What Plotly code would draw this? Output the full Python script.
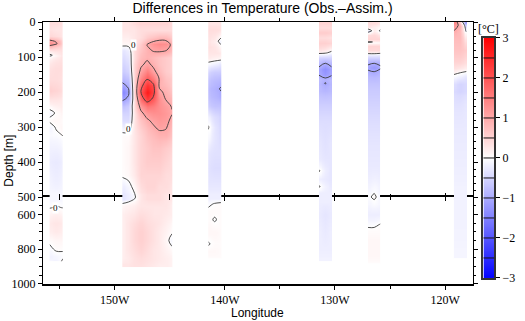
import numpy as np
import plotly.graph_objects as go

# Temperature difference sections (Obs. - Assim.), degrees C.
# Longitudes in degrees east (negative = west), depths in metres.
# Each section: column longitudes, upper-layer depths/values (0-500 m),
# lower-layer depths/values (500-1000 m). Rows = depth, columns = longitude.

s1_lon = [-155.9, -155.3, -154.7]
s1_dep_up = [0, 20, 40, 55, 62, 72, 85, 95, 105, 130, 160, 200, 225, 245, 260, 280, 300, 320, 350, 400, 450, 500]
s1_val_up = [
    [0.40, 0.40, 0.35], [0.35, 0.30, 0.30], [0.45, 0.40, 0.30], [1.15, 0.95, 0.55],
    [1.30, 1.06, 0.60], [0.75, 0.60, 0.45], [0.20, 0.30, 0.35], [-0.08, 0.12, 0.30],
    [0.20, 0.30, 0.35], [0.35, 0.40, 0.40], [0.40, 0.40, 0.35], [0.55, 0.50, 0.40],
    [0.30, 0.30, 0.25], [0.05, 0.15, 0.20], [-0.10, 0.03, 0.12], [0.06, 0.10, 0.06],
    [-0.12, 0.03, 0.10], [-0.06, -0.04, 0.02], [-0.15, -0.15, -0.10], [-0.22, -0.25, -0.20],
    [-0.15, -0.20, -0.15], [-0.10, -0.10, -0.10],
]
s1_dep_lo = [500, 560, 600, 650, 700, 750, 800, 840, 870]
s1_val_lo = [
    [-0.10, -0.10, -0.10], [-0.02, 0.02, -0.01], [0.15, 0.20, 0.15], [0.25, 0.30, 0.25],
    [0.20, 0.25, 0.20], [0.05, 0.10, 0.10], [-0.06, 0.04, 0.02], [-0.15, -0.10, -0.04],
    [-0.10, -0.15, 0.04],
]

s2_lon = [-149.3, -148.74, -148.18, -147.61, -147.05, -146.49, -145.93, -145.36, -144.8]
s2_dep_up = [0, 25, 45, 65, 80, 100, 120, 140, 160, 180, 200, 220, 240, 260, 280, 300,
             320, 360, 400, 440, 470, 500]
s2_val_up = [
    [0.30, 0.30, 0.40, 0.50, 0.50, 0.50, 0.50, 0.50, 0.40],
    [0.30, 0.30, 0.30, 0.40, 0.40, 0.40, 0.40, 0.40, 0.40],
    [0.20, 0.20, 0.30, 0.40, 0.60, 0.70, 0.80, 0.80, 0.60],
    [0.10, 0.10, 0.30, 0.60, 1.02, 1.25, 1.35, 1.30, 0.90],
    [-0.30, -0.20, 0.40, 0.70, 0.90, 1.05, 1.10, 1.05, 0.80],
    [-0.40, -0.30, 0.40, 0.80, 0.90, 0.80, 0.70, 0.60, 0.50],
    [-0.50, -0.40, 0.50, 0.90, 1.10, 0.90, 0.70, 0.60, 0.50],
    [-0.60, -0.50, 0.50, 1.10, 1.50, 1.10, 0.80, 0.60, 0.50],
    [-0.80, -0.70, 0.50, 1.40, 1.90, 1.50, 0.95, 0.70, 0.60],
    [-1.10, -0.90, 0.50, 1.80, 2.40, 2.10, 0.90, 0.80, 0.60],
    [-1.40, -1.10, 0.50, 2.03, 2.70, 2.20, 1.10, 0.90, 0.70],
    [-1.10, -0.90, 0.40, 1.70, 2.30, 1.90, 1.30, 0.98, 0.85],
    [-0.70, -0.60, 0.40, 1.20, 1.60, 1.50, 1.30, 1.15, 0.97],
    [-0.50, -0.50, 0.30, 0.90, 1.20, 1.30, 1.30, 1.20, 1.03],
    [-0.40, -0.40, 0.30, 0.70, 0.95, 1.10, 1.20, 1.15, 0.90],
    [-0.20, -0.20, 0.30, 0.60, 0.80, 0.95, 1.10, 1.05, 0.80],
    [0.05, 0.05, 0.30, 0.50, 0.70, 0.80, 0.90, 0.90, 0.70],
    [0.05, 0.10, 0.30, 0.50, 0.60, 0.70, 0.70, 0.60, 0.50],
    [0.05, 0.10, 0.30, 0.50, 0.60, 0.60, 0.60, 0.50, 0.40],
    [0.03, 0.08, 0.25, 0.50, 0.50, 0.50, 0.50, 0.40, 0.40],
    [-0.20, -0.10, 0.10, 0.40, 0.50, 0.50, 0.40, 0.40, 0.30],
    [-0.30, -0.20, -0.05, 0.30, 0.40, 0.40, 0.40, 0.30, 0.30],
]
s2_dep_lo = [500, 550, 600, 650, 700, 750, 800, 850, 900]
s2_val_lo = [
    [-0.30, -0.20, -0.05, 0.30, 0.40, 0.40, 0.40, 0.30, 0.30],
    [0.10, 0.15, 0.20, 0.30, 0.30, 0.30, 0.30, 0.30, 0.20],
    [0.20, 0.25, 0.30, 0.40, 0.35, 0.30, 0.30, 0.25, 0.20],
    [0.20, 0.30, 0.40, 0.50, 0.40, 0.35, 0.30, 0.20, 0.10],
    [0.20, 0.30, 0.45, 0.55, 0.45, 0.35, 0.25, 0.15, 0.03],
    [0.20, 0.30, 0.45, 0.55, 0.45, 0.35, 0.25, 0.10, -0.10],
    [0.20, 0.30, 0.40, 0.50, 0.40, 0.30, 0.25, 0.15, 0.05],
    [0.20, 0.25, 0.35, 0.40, 0.35, 0.30, 0.25, 0.20, 0.15],
    [0.30, 0.30, 0.35, 0.35, 0.30, 0.25, 0.20, 0.20, 0.15],
]

s3_lon = [-141.5, -140.92, -140.35]
s3_dep_up = [0, 20, 40, 55, 70, 90, 105, 120, 140, 170, 190, 210, 240, 270, 300, 330, 370, 420, 460, 500]
s3_val_up = [
    [0.30, 0.30, 0.30], [0.40, 0.40, 0.35], [0.35, 0.30, 0.10], [0.30, 0.20, -0.15],
    [0.35, 0.30, 0.10], [0.30, 0.30, 0.25], [0.20, 0.15, 0.10], [-0.10, -0.20, -0.30],
    [-0.50, -0.60, -0.60], [-0.70, -0.80, -0.85], [-0.80, -0.90, -1.03], [-0.75, -0.85, -0.95],
    [-0.60, -0.70, -0.70], [-0.20, -0.40, -0.50], [0.03, -0.30, -0.45], [-0.10, -0.30, -0.40],
    [-0.30, -0.35, -0.35], [-0.35, -0.40, -0.40], [-0.30, -0.30, -0.30], [-0.20, -0.20, -0.20],
]
s3_dep_lo = [500, 540, 580, 630, 700, 770, 810, 850]
s3_val_lo = [
    [-0.20, -0.20, -0.20], [-0.05, 0.02, 0.05], [0.05, 0.05, 0.05], [0.05, -0.02, 0.05],
    [0.10, 0.10, 0.05], [-0.02, 0.05, 0.05], [0.08, 0.08, 0.05], [0.05, 0.05, 0.05],
]

s4_lon = [-131.45, -130.88, -130.3]
s4_dep_up = [0, 15, 30, 45, 60, 75, 88, 100, 115, 135, 150, 165, 175, 190, 230, 280, 340,
             400, 425, 450, 470, 490, 500]
s4_val_up = [
    [0.50, 0.50, 0.50], [0.40, 0.40, 0.40], [0.60, 0.60, 0.55], [0.40, 0.40, 0.35],
    [0.55, 0.55, 0.50], [0.40, 0.35, 0.20], [0.10, 0.05, -0.10], [-0.50, -0.50, -0.50],
    [-0.80, -0.95, -0.80], [-1.10, -1.30, -1.10], [-1.03, -1.20, -1.05], [-0.80, -0.90, -0.80],
    [-0.85, -1.02, -0.85], [-0.80, -0.85, -0.80], [-0.60, -0.60, -0.60], [-0.40, -0.40, -0.40],
    [-0.30, -0.35, -0.30], [-0.25, -0.30, -0.30], [0.03, -0.20, -0.30], [-0.20, -0.25, -0.30],
    [0.03, -0.15, -0.25], [-0.20, -0.20, -0.20], [-0.20, -0.20, -0.20],
]
s4_dep_lo = [500, 600, 700, 800, 870]
s4_val_lo = [
    [-0.20, -0.20, -0.20], [-0.25, -0.30, -0.25], [-0.20, -0.25, -0.20],
    [-0.20, -0.20, -0.20], [-0.15, -0.15, -0.15],
]

s5_lon = [-127.0, -126.44, -125.87]
s5_dep_up = [0, 15, 25, 35, 50, 57, 70, 80, 90, 100, 115, 130, 145, 170, 220, 280, 350, 420, 470, 500]
s5_val_up = [
    [0.40, 0.40, 0.30], [0.30, 0.20, 0.10], [-0.30, 0.20, -0.05], [0.40, 0.45, 0.30],
    [0.50, 0.50, 0.50], [-0.05, 0.02, 0.05], [0.50, 0.50, 0.50], [0.45, 0.45, 0.45],
    [0.02, 0.03, -0.02], [-0.50, -0.50, -0.50], [-0.90, -0.95, -0.90], [-1.10, -1.20, -1.05],
    [-0.90, -0.95, -0.85], [-0.70, -0.70, -0.70], [-0.55, -0.55, -0.55], [-0.40, -0.40, -0.40],
    [-0.30, -0.30, -0.30], [-0.25, -0.25, -0.25], [-0.15, -0.10, -0.15], [-0.05, 0.05, -0.10],
]
s5_dep_lo = [500, 530, 600, 660, 690, 760, 820, 880]
s5_val_lo = [
    [-0.05, 0.05, -0.10], [-0.10, -0.05, -0.10], [-0.20, -0.20, -0.20], [-0.05, -0.05, 0.02],
    [0.05, 0.05, 0.05], [0.10, 0.10, 0.10], [0.10, 0.10, 0.10], [0.05, 0.05, 0.05],
]

s6_lon = [-119.2, -118.63, -118.06]
s6_dep_up = [0, 10, 25, 40, 80, 120, 140, 155, 175, 200, 215, 300, 400, 500]
s6_val_up = [
    [1.40, 0.60, -1.05], [1.20, 0.90, -0.40], [1.00, 0.80, -0.10], [0.80, 0.80, 0.30],
    [0.70, 0.70, 0.60], [0.50, 0.50, 0.40], [0.20, 0.10, 0.03], [-0.10, -0.20, -0.30],
    [-0.40, -0.50, -0.45], [-0.45, -0.50, -0.45], [-0.35, -0.35, -0.30], [-0.25, -0.25, -0.25],
    [-0.20, -0.20, -0.20], [-0.15, -0.15, -0.15],
]
s6_dep_lo = [500, 650, 850]
s6_val_lo = [[-0.15, -0.15, -0.15], [-0.15, -0.15, -0.15], [-0.12, -0.12, -0.12]]

# Axis tick values / labels
lon_ticks = [-150, -140, -130, -120]
lon_labels = ["150W", "140W", "130W", "120W"]
dep_ticks_up = [0, 100, 200, 300, 400, 500]
dep_ticks_lo = [600, 800, 1000]
cbar_ticks = [-3, -2, -1, 0, 1, 2, 3]
cbar_bounds = [-2.5, -2, -1.5, -1, -0.5, 0, 0.5, 1, 1.5, 2, 2.5]

SECTIONS = [
    (s1_lon, s1_dep_up, s1_val_up, s1_dep_lo, s1_val_lo),
    (s2_lon, s2_dep_up, s2_val_up, s2_dep_lo, s2_val_lo),
    (s3_lon, s3_dep_up, s3_val_up, s3_dep_lo, s3_val_lo),
    (s4_lon, s4_dep_up, s4_val_up, s4_dep_lo, s4_val_lo),
    (s5_lon, s5_dep_up, s5_val_up, s5_dep_lo, s5_val_lo),
    (s6_lon, s6_dep_up, s6_val_up, s6_dep_lo, s6_val_lo),
]

CS = [[0.0, "rgb(0,0,255)"], [0.5, "rgb(255,255,255)"], [1.0, "rgb(255,0,0)"]]
SERIF = "Liberation Serif, Times New Roman, Times, serif"
SANS = "Liberation Sans, Arial, Helvetica, sans-serif"
LON_RANGE = [-156.5, -117.5]


def edges(p):
    """Cell edges that start/end exactly on the first/last grid point."""
    p = np.asarray(p, float)
    mid = (p[:-1] + p[1:]) / 2
    return np.concatenate([[p[0]], mid, [p[-1]]])


fig = go.Figure()

for lon, dep_up, val_up, dep_lo, val_lo in SECTIONS:
    for dep, val, xa, ya in [(dep_up, val_up, "x2", "y"), (dep_lo, val_lo, "x", "y2")]:
        fig.add_trace(go.Heatmap(
            x=edges(lon), y=edges(dep), z=val, zsmooth="best",
            colorscale=CS, zmin=-3, zmax=3, showscale=False,
            xaxis=xa, yaxis=ya, hoverinfo="skip"))
        fig.add_trace(go.Contour(
            x=lon, y=dep, z=val, autocontour=False,
            contours=dict(start=-3, end=3, size=1, coloring="none"),
            line=dict(color="#3a3a3a", width=0.9), showscale=False,
            xaxis=xa, yaxis=ya, hoverinfo="skip"))

# empty traces so the tick-only overlay axes along the 500 m line get drawn
fig.add_trace(go.Scatter(x=[], y=[], xaxis="x4", yaxis="y2", hoverinfo="skip"))
fig.add_trace(go.Scatter(x=[], y=[], xaxis="x5", yaxis="y", hoverinfo="skip"))

# colour bar drawn as its own small heatmap
cb_vals = np.linspace(-3, 3, 121)
fig.add_trace(go.Heatmap(
    x=[0, 1], y=cb_vals, z=[[v, v] for v in cb_vals], zsmooth="best",
    colorscale=CS, zmin=-3, zmax=3, showscale=False,
    xaxis="x3", yaxis="y3", hoverinfo="skip"))

shapes = [
    dict(type="line", xref="x3 domain", yref="y3", x0=0, x1=1, y0=b, y1=b,
         line=dict(color="#111", width=1))
    for b in cbar_bounds
]

XD = [0, 0.9301]
YSPLIT = 0.332
tickfont = dict(family=SERIF, size=12, color="black")
minor_out = dict(dtick=5, tick0=0, ticks="outside", ticklen=3, tickcolor="black")
minor_in = dict(dtick=5, tick0=0, ticks="inside", ticklen=3, tickcolor="black")
base_x = dict(range=LON_RANGE, domain=XD, tickmode="array", tickvals=lon_ticks,
              tickcolor="black", showgrid=False, zeroline=False)

fig.update_layout(
    width=525, height=321,
    margin=dict(l=43, r=10, t=22, b=37),
    paper_bgcolor="white", plot_bgcolor="white",
    showlegend=False,
    title=dict(text="Differences in Temperature (Obs.\u2013Assim.)", x=0.5, xanchor="center",
               y=0.975, yanchor="middle", font=dict(family=SANS, size=14, color="black")),
    # bottom axis (labels); its mirrored line forms the 500 m break line
    xaxis=dict(**base_x, anchor="y2", ticktext=lon_labels, tickfont=tickfont,
               ticks="outside", ticklen=4, showline=True, linecolor="black", linewidth=1.6,
               mirror=True, layer="below traces", minor=minor_out),
    # top frame of the upper panel
    xaxis2=dict(**base_x, anchor="y", side="top", showticklabels=False,
                ticks="outside", ticklen=4, showline=True, linecolor="black", linewidth=1.4,
                layer="above traces", minor=minor_out),
    # ticks pointing down from the 500 m line
    xaxis4=dict(**base_x, anchor="y2", side="top", overlaying="x", showticklabels=False,
                ticks="inside", ticklen=4, showline=False, layer="above traces",
                minor=minor_in),
    # ticks pointing up from the 500 m line
    xaxis5=dict(**base_x, anchor="y", side="bottom", overlaying="x2", showticklabels=False,
                ticks="inside", ticklen=4, showline=False, layer="above traces",
                minor=minor_in),
    yaxis=dict(domain=[YSPLIT, 1], range=[500, 0], anchor="x2", tickmode="array",
               tickvals=dep_ticks_up, ticks="outside", ticklen=4, tickcolor="black",
               showline=True, linecolor="black", linewidth=1.2, mirror="ticks",
               showgrid=False, zeroline=False, tickfont=tickfont, layer="below traces",
               minor=dict(dtick=20, tick0=0, ticks="outside", ticklen=2.5, tickcolor="black")),
    yaxis2=dict(domain=[0, YSPLIT], range=[1000, 500], anchor="x", tickmode="array",
                tickvals=dep_ticks_lo, ticks="outside", ticklen=4, tickcolor="black",
                showline=True, linecolor="black", linewidth=1.2, mirror="ticks",
                showgrid=False, zeroline=False, tickfont=tickfont, layer="below traces",
                minor=dict(dtick=50, tick0=500, ticks="outside", ticklen=2.5, tickcolor="black")),
    xaxis3=dict(domain=[0.9534, 0.9767], range=[-0.5, 1.5], anchor="y3",
                showticklabels=False, ticks="", showline=True, linecolor="#333",
                linewidth=1.5, mirror=True, showgrid=False, zeroline=False),
    yaxis3=dict(domain=[0.023, 0.939], range=[-3, 3], anchor="x3", side="right",
                tickmode="array", tickvals=cbar_ticks, ticks="outside", ticklen=4,
                tickcolor="black", showline=True, linecolor="#333", linewidth=1.5,
                mirror=True, showgrid=False, zeroline=False, tickfont=tickfont),
    shapes=shapes,
    annotations=[
        dict(text="Depth [m]", xref="paper", yref="paper", x=-0.074, y=0.47,
             textangle=-90, showarrow=False, font=dict(family=SANS, size=12, color="black"),
             xanchor="center", yanchor="middle"),
        dict(text="Longitude", xref="paper", yref="paper", x=XD[1] / 2, y=-0.111,
             showarrow=False, font=dict(family=SANS, size=12, color="black"),
             xanchor="center", yanchor="middle"),
        dict(text="[\u00b0C]", xref="x3 domain", yref="y3 domain", x=0.5, y=1,
             xanchor="center", yanchor="bottom", yshift=0, showarrow=False,
             font=dict(family=SERIF, size=12, color="black")),
        dict(text="0", xref="x2", yref="y", x=-148.3, y=66, showarrow=False,
             font=dict(family=SERIF, size=9, color="black"), bgcolor="white", borderpad=0),
        dict(text="0", xref="x2", yref="y", x=-148.76, y=306, showarrow=False,
             font=dict(family=SERIF, size=9, color="black"), bgcolor="white", borderpad=0),
        dict(text="0", xref="x", yref="y2", x=-155.35, y=563, showarrow=False,
             font=dict(family=SERIF, size=9, color="black"), bgcolor="white", borderpad=0),
    ],
)

fig.write_html("out.html")
